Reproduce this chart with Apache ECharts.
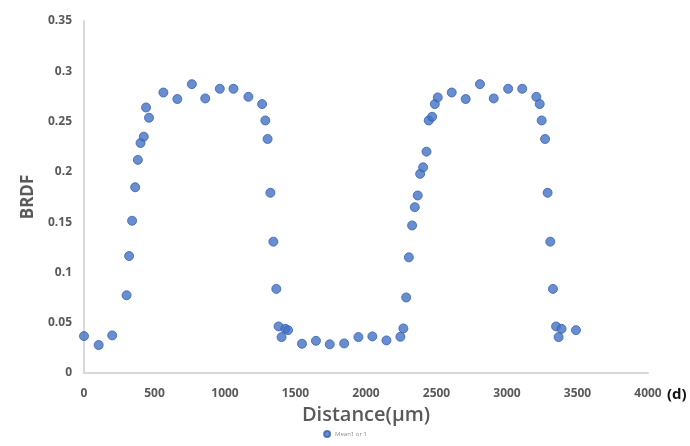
<!DOCTYPE html>
<html>
<head>
<meta charset="utf-8">
<style>
  html, body { margin: 0; padding: 0; background: #fff; }
  #chart { width: 690px; height: 446px; }
</style>
<script src="https://cdn.jsdelivr.net/npm/echarts@6/dist/echarts.min.js"></script>
</head>
<body>
<div id="chart"></div>
<script>
// distance (um) and BRDF
const distance = [
  0, 104, 200, 302, 320, 341, 363, 382, 401, 424, 440, 461,
  563, 662, 765, 860, 963, 1060, 1166, 1263, 1286, 1302, 1322, 1343,
  1364, 1380, 1401, 1428, 1447, 1546, 1645, 1743, 1845, 1946, 2045, 2145,
  2244, 2265, 2285, 2304, 2327, 2346, 2367, 2384, 2405, 2429, 2445, 2469,
  2488, 2509, 2608, 2707, 2808, 2906, 3008, 3108, 3208, 3232, 3246, 3270,
  3288, 3307, 3326, 3348, 3366, 3387, 3489
]
const brdf = [
  0.0367, 0.0278, 0.0374, 0.0773, 0.1163, 0.1514, 0.1847, 0.2119, 0.2287, 0.2350, 0.2640, 0.2538,
  0.2789, 0.2724, 0.2872, 0.2730, 0.2826, 0.2826, 0.2746, 0.2674, 0.2511, 0.2327, 0.1792, 0.1306,
  0.0836, 0.0463, 0.0357, 0.0439, 0.0426, 0.0291, 0.0320, 0.0285, 0.0294, 0.0357, 0.0364, 0.0324,
  0.0360, 0.0443, 0.0751, 0.1150, 0.1467, 0.1649, 0.1765, 0.1980, 0.2045, 0.2201, 0.2511, 0.2548,
  0.2674, 0.2740, 0.2789, 0.2724, 0.2872, 0.2730, 0.2826, 0.2826, 0.2746, 0.2674, 0.2511, 0.2327,
  0.1792, 0.1306, 0.0836, 0.0463, 0.0357, 0.0439, 0.0426
]
const seriesName = 'Mean1 or 1'
const panelTag = '(d)'

const points = distance.map((d, i) => [d, brdf[i]])

const chart = echarts.init(document.getElementById('chart'))
const labelColor = '#595959'
const font = 'Open Sans'

chart.setOption({
  backgroundColor: '#fff',
  animation: false,
  grid: {
    left: 84,
    right: 42,
    top: 21,
    bottom: 73
  },
  legend: {
    bottom: 3,
    left: 'center',
    itemWidth: 6,
    itemHeight: 6,
    itemGap: 4,
    icon: 'circle',
    textStyle: { fontSize: 6, color: '#8c8c8c', fontFamily: font },
    data: [seriesName]
  },
  xAxis: {
    type: 'value',
    min: 0,
    max: 4000,
    interval: 500,
    name: 'Distance(μm)',
    nameLocation: 'middle',
    nameGap: 31,
    nameTextStyle: { fontSize: 20, color: labelColor, fontFamily: font, fontWeight: 600 },
    axisLine: { lineStyle: { color: '#d9d9d9', width: 2 } },
    axisTick: { show: false },
    splitLine: { show: false },
    axisLabel: {
      color: labelColor, fontSize: 12, fontWeight: 'bold', fontFamily: font, margin: 15,
      formatter: v => String(v)
    }
  },
  yAxis: {
    type: 'value',
    min: 0,
    max: 0.35,
    interval: 0.05,
    name: 'BRDF',
    nameLocation: 'middle',
    nameRotate: 90,
    nameGap: 44,
    nameTextStyle: { fontSize: 17, color: labelColor, fontFamily: font, fontWeight: 'bold' },
    axisLine: { show: true, lineStyle: { color: '#d9d9d9', width: 2 } },
    axisTick: { show: false },
    splitLine: { show: false },
    axisLabel: { color: labelColor, fontSize: 12, fontWeight: 'bold', fontFamily: font, margin: 12 }
  },
  graphic: [
    {
      type: 'text',
      left: 667,
      top: 387,
      style: { text: panelTag, fontSize: 15, fontWeight: 'bold', fill: '#111', fontFamily: font }
    }
  ],
  series: [
    {
      name: seriesName,
      type: 'scatter',
      symbol: 'circle',
      symbolSize: 9,
      itemStyle: { color: '#4472c4', borderColor: '#3760b0', borderWidth: 1 },
      data: points
    }
  ]
})
</script>
</body>
</html>
